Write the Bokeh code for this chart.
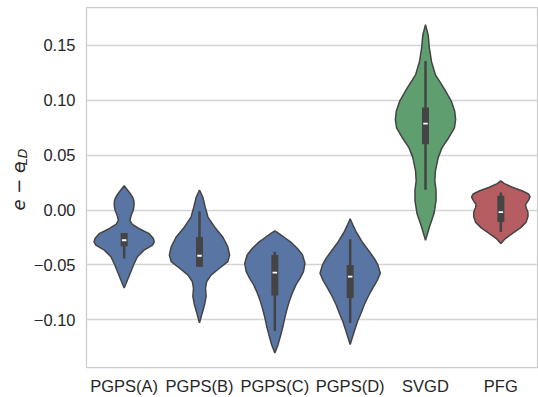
from bokeh.plotting import figure
from bokeh.models import FixedTicker, Label
from bokeh.layouts import row
from bokeh.embed import file_html
from bokeh.resources import INLINE

categories = ["PGPS(A)", "PGPS(B)", "PGPS(C)", "PGPS(D)", "SVGD", "PFG"]
colors = ["#5875a4", "#5875a4", "#5875a4", "#5875a4", "#5f9e6e", "#b55d60"]

# violin outlines: value levels and relative half-widths (1 = widest)
a_v = [0.0221, 0.0176, 0.0146, 0.0116, 0.0086, 0.0056, 0.0026, -0.0004, -0.0050, -0.0095,
       -0.0130, -0.0170, -0.0215, -0.0260, -0.0290, -0.0320, -0.0365, -0.0425, -0.0500,
       -0.0576, -0.0650, -0.0710]
a_w = [0.0, 0.13, 0.21, 0.28, 0.32, 0.33, 0.32, 0.30, 0.23, 0.19,
       0.27, 0.50, 0.83, 0.97, 1.0, 0.94, 0.66, 0.44, 0.31,
       0.20, 0.09, 0.0]

b_v = [0.0182, 0.0116, 0.0026, -0.0064, -0.0154, -0.0245, -0.0335, -0.0410, -0.0470,
       -0.0530, -0.0590, -0.0650, -0.0710, -0.0786, -0.0860, -0.0937, -0.1027]
b_w = [0.0, 0.11, 0.19, 0.28, 0.50, 0.77, 0.94, 1.0, 0.94,
       0.66, 0.39, 0.24, 0.20, 0.22, 0.17, 0.09, 0.0]

c_v = [-0.0190, -0.0215, -0.0250, -0.0290, -0.0350, -0.0410, -0.0486, -0.0560, -0.0620,
       -0.0681, -0.0756, -0.0831, -0.0906, -0.0982, -0.1058, -0.1133, -0.1223, -0.1300]
c_w = [0.0, 0.14, 0.32, 0.52, 0.75, 0.92, 1.0, 0.95, 0.84,
       0.70, 0.58, 0.48, 0.40, 0.33, 0.27, 0.20, 0.11, 0.0]

d_v = [-0.0080, -0.0130, -0.0200, -0.0290, -0.0380, -0.0440, -0.0500, -0.0576, -0.0640,
       -0.0710, -0.0780, -0.0860, -0.0940, -0.1010, -0.1100, -0.1223]
d_w = [0.0, 0.08, 0.20, 0.40, 0.64, 0.80, 0.92, 1.0, 0.90,
       0.75, 0.61, 0.47, 0.36, 0.25, 0.14, 0.0]

svgd_v = [0.1687, 0.1590, 0.1470, 0.1350, 0.1230, 0.1110, 0.0988, 0.0898, 0.0823, 0.0748,
          0.0658, 0.0568, 0.0477, 0.0357, 0.0266, 0.0176, 0.0086, -0.0034, -0.0154, -0.0275]
svgd_w = [0.0, 0.09, 0.13, 0.20, 0.33, 0.61, 0.86, 0.97, 1.0, 0.96,
          0.77, 0.55, 0.42, 0.33, 0.31, 0.35, 0.35, 0.28, 0.13, 0.0]

pfg_v = [0.0266, 0.0240, 0.0205, 0.0175, 0.0146, 0.0120, 0.0090, 0.0050, 0.0020, -0.0020,
         -0.0060, -0.0110, -0.0160, -0.0210, -0.0260, -0.0305]
pfg_w = [0.0, 0.12, 0.40, 0.70, 0.92, 0.97, 0.92, 0.82, 0.84, 0.90,
         0.90, 0.84, 0.66, 0.40, 0.15, 0.0]

# inner box statistics
q1 = [-0.0330, -0.0516, -0.0777, -0.0800, 0.0598, -0.0110]
median = [-0.0275, -0.0416, -0.0570, -0.0606, 0.0787, -0.0019]
q3 = [-0.0210, -0.0245, -0.0410, -0.0500, 0.0934, 0.0131]
whisker_lo = [-0.0440, -0.0516, -0.1100, -0.1027, 0.0185, -0.0200]
whisker_hi = [-0.0210, -0.0010, -0.0380, -0.0266, 0.1356, 0.0160]

yticks = [-0.10, -0.05, 0.00, 0.05, 0.10, 0.15]
ytick_labels = ["\u22120.10", "\u22120.05", "0.00", "0.05", "0.10", "0.15"]
ylabel_main = "e \u2212 e"
ylabel_sub = "LD"

profiles = [(a_v, a_w), (b_v, b_w), (c_v, c_w), (d_v, d_w), (svgd_v, svgd_w), (pfg_v, pfg_w)]
half = 0.4

xs, ys = [], []
for i, (vv, ww) in enumerate(profiles):
    right_x = [i + half * w for w in ww]
    left_x = [i - half * w for w in reversed(ww)]
    xs.append(right_x + left_x)
    ys.append(list(vv) + list(reversed(vv)))

idx = list(range(len(categories)))

LW = 30  # width of the strip that carries the y-axis label
H = 397

p = figure(width=538 - LW, height=H, output_backend="svg", toolbar_location=None,
           x_range=(-0.5, 5.5), y_range=(-0.1433, 0.1843),
           min_border_left=86 - LW, min_border_right=0, min_border_top=7, min_border_bottom=27)
p.background_fill_color = "white"
p.border_fill_color = "white"
p.outline_line_color = "#cccccc"
p.outline_line_width = 1.25

p.xgrid.grid_line_color = None
p.ygrid.grid_line_color = "#d4d4d4"
p.ygrid.grid_line_width = 1.4

for ax in (p.xaxis[0], p.yaxis[0]):
    ax.axis_line_color = None
    ax.major_tick_line_color = None
    ax.minor_tick_line_color = None
    ax.major_tick_out = 0
    ax.major_tick_in = 0
    ax.major_label_text_font = "Liberation Sans"
    ax.major_label_text_font_size = "16.5px"
    ax.major_label_text_color = "#262626"

p.xaxis.ticker = FixedTicker(ticks=idx)
p.xaxis.major_label_overrides = {i: c for i, c in zip(idx, categories)}
p.xaxis.major_label_standoff = 9
p.yaxis.ticker = FixedTicker(ticks=yticks)
p.yaxis.major_label_overrides = {t: l for t, l in zip(yticks, ytick_labels)}
p.yaxis.major_label_standoff = 11

p.patches(xs, ys, fill_color=colors, line_color="#444444", line_width=1.5)
p.segment(x0=idx, y0=whisker_lo, x1=idx, y1=whisker_hi, line_color="#444444", line_width=2.5)
p.segment(x0=idx, y0=q1, x1=idx, y1=q3, line_color="#444444", line_width=7, line_cap="butt")
p.rect(x=idx, y=median, width=4.5, height=1.8, width_units="screen", height_units="screen",
       fill_color="white", line_color=None)

# narrow strip on the left holding the rotated y-axis label (pixel coordinates, y up)
lab = figure(width=LW, height=H, output_backend="svg", toolbar_location=None,
             x_range=(0, LW), y_range=(0, H), min_border=0)
lab.axis.visible = False
lab.grid.visible = False
lab.outline_line_color = None
lab.background_fill_color = "white"
lab.border_fill_color = "white"
lab.add_layout(Label(x=18, y=H - 224, text=ylabel_main, angle=1.5708,
                     text_font="DejaVu Sans", text_font_style="italic",
                     text_font_size="18px", text_color="#262626",
                     text_align="left", text_baseline="alphabetic"))
lab.add_layout(Label(x=22, y=H - 174, text=ylabel_sub, angle=1.5708,
                     text_font="DejaVu Sans", text_font_style="italic",
                     text_font_size="12.5px", text_color="#262626",
                     text_align="left", text_baseline="alphabetic"))

layout = row(lab, p, spacing=0)
open("out.html", "w").write(file_html(layout, INLINE))
